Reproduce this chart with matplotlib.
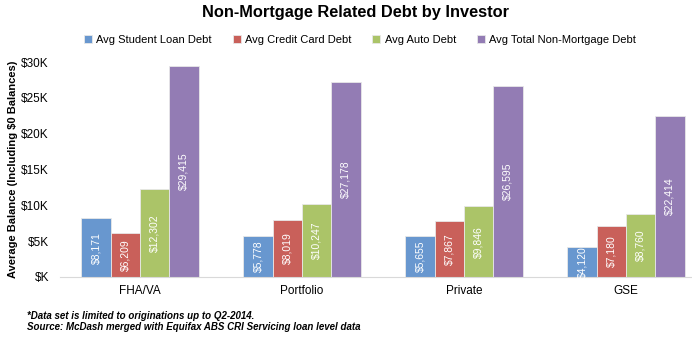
import matplotlib
matplotlib.use("Agg")
import matplotlib.pyplot as plt
import numpy as np

categories = ["FHA/VA", "Portfolio", "Private", "GSE"]
series_names = ["Avg Student Loan Debt", "Avg Credit Card Debt", "Avg Auto Debt",
                "Avg Total Non-Mortgage Debt"]
student = [8171, 5778, 5655, 4120]
credit = [6209, 8019, 7867, 7180]
auto = [12302, 10247, 9846, 8760]
total = [29415, 27178, 26595, 22414]
yticks = [0, 5000, 10000, 15000, 20000, 25000, 30000]
ytick_labels = ["$K", "$5K", "$10K", "$15K", "$20K", "$25K", "$30K"]
colors = ["#6897CF", "#C9605A", "#ABC468", "#937CB4"]

plt.rcParams['font.family'] = ['Liberation Sans', 'DejaVu Sans']

W, H = 692, 345
fig = plt.figure(figsize=(W / 100, H / 100), dpi=100)
left_px, right_px = 60, 692
bottom_px, top_px = 277, 62
ax = fig.add_axes([left_px / W, 1 - bottom_px / H, (right_px - left_px) / W,
                   (bottom_px - top_px) / H])

spacing = 162.0
x0_px = 140.0
xmin = (left_px - x0_px) / spacing
xmax = (right_px - x0_px) / spacing
x = np.arange(len(categories))
bw = 29.3 / spacing
data = [student, credit, auto, total]
for i, (vals, c, name) in enumerate(zip(data, colors, series_names)):
    pos = x + (i - 1.5) * bw
    bars = ax.bar(pos, vals, width=bw, color=c, edgecolor="#e8e8e8", linewidth=0.6,
                  label=name)
    for b, v in zip(bars, vals):
        ax.text(b.get_x() + b.get_width() / 2, v / 2, f"${v:,}", rotation=90,
                ha="center", va="center", color="white", fontsize=7.5)

ax.set_xlim(xmin, xmax)
ax.set_ylim(0, 30000)
ax.set_yticks(yticks)
ax.set_yticklabels(ytick_labels, fontsize=8.5)
ax.set_xticks(x)
ax.set_xticklabels(categories, fontsize=8.5)
ax.tick_params(axis="both", length=0, pad=6)
ax.tick_params(axis="y", pad=8)
for s in ["top", "right", "left"]:
    ax.spines[s].set_visible(False)
ax.spines["bottom"].set_color("#d9d9d9")
ax.set_ylabel("Average Balance (Including $0 Balances)", fontsize=8, fontweight="bold",
              labelpad=2)

fig.text(356 / W, 1 - 12 / H, "Non-Mortgage Related Debt by Investor", ha="center",
         va="center", fontsize=11.8, fontweight="bold")

handles, labels = ax.get_legend_handles_labels()
fig.legend(handles, labels, loc="center", bbox_to_anchor=(360 / W, 1 - 40 / H), ncol=4,
           frameon=False, fontsize=8, handlelength=0.7, handleheight=0.7,
           handletextpad=0.4, columnspacing=1.9)

fig.text(27 / W, 1 - 316 / H, "*Data set is limited to originations up to Q2-2014.",
         fontsize=7, style="italic", fontweight="bold", va="center")
fig.text(27 / W, 1 - 327 / H,
         "Source: McDash merged with Equifax ABS CRI Servicing loan level data",
         fontsize=7, style="italic", fontweight="bold", va="center")

fig.savefig("out.png", dpi=100)
